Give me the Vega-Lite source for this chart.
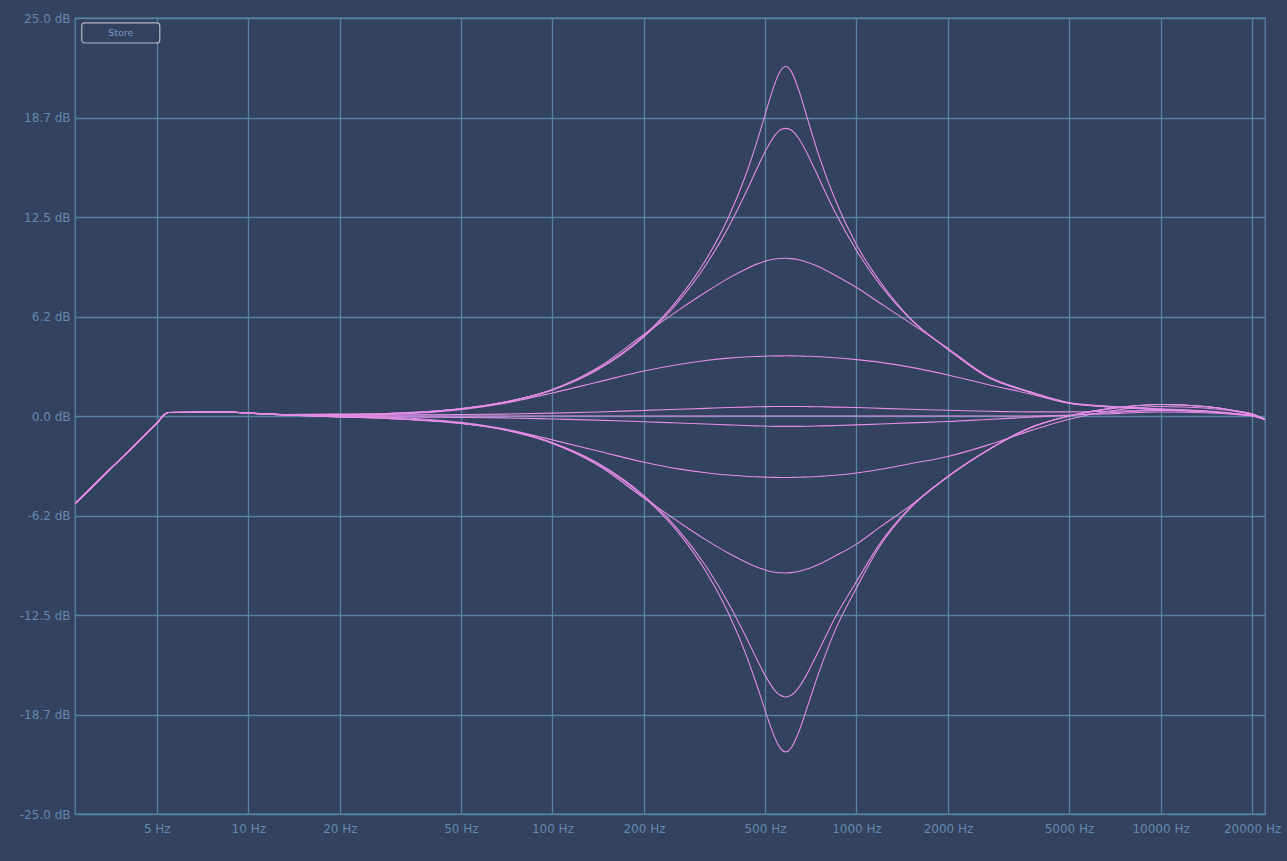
{
  "$schema": "https://vega.github.io/schema/vega-lite/v6.json",
  "width": 1190,
  "height": 796,
  "autosize": {"type": "none"},
  "padding": {"left": 75, "top": 18, "right": 22, "bottom": 47},
  "background": "#33425e",
  "config": {
    "view": {"stroke": "#5683a3", "strokeWidth": 1.3, "fill": "#33425e"},
    "axis": {
      "grid": true,
      "gridColor": "#5683a3",
      "gridWidth": 1.3,
      "domain": false,
      "ticks": false,
      "labelColor": "#6487af",
      "labelFont": "DejaVu Sans",
      "labelFontSize": 12,
      "labelFlush": false,
      "labelOverlap": false,
      "title": null
    }
  },
  "datasets": {
    "curves": [
      {"f": 2.6917, "A": -5.5, "B": -5.5, "C": -5.5, "D": -5.5, "E": -5.5, "F": -5.5, "Ec": -5.5, "Dc": -5.5, "Cc": -5.5, "Bc": -5.5, "Ac": -5.5},
      {"f": 3.5, "A": -3.37, "B": -3.37, "C": -3.37, "D": -3.37, "E": -3.37, "F": -3.37, "Ec": -3.37, "Dc": -3.37, "Cc": -3.37, "Bc": -3.37, "Ac": -3.37},
      {"f": 4, "A": -2.29, "B": -2.29, "C": -2.29, "D": -2.29, "E": -2.29, "F": -2.29, "Ec": -2.29, "Dc": -2.29, "Cc": -2.29, "Bc": -2.29, "Ac": -2.29},
      {"f": 5, "A": -0.45, "B": -0.45, "C": -0.45, "D": -0.45, "E": -0.45, "F": -0.45, "Ec": -0.45, "Dc": -0.45, "Cc": -0.45, "Bc": -0.45, "Ac": -0.45},
      {"f": 5.45, "A": 0.22, "B": 0.22, "C": 0.22, "D": 0.22, "E": 0.22, "F": 0.22, "Ec": 0.22, "Dc": 0.22, "Cc": 0.22, "Bc": 0.22, "Ac": 0.22},
      {"f": 8, "A": 0.25, "B": 0.25, "C": 0.25, "D": 0.25, "E": 0.25, "F": 0.25, "Ec": 0.25, "Dc": 0.25, "Cc": 0.25, "Bc": 0.25, "Ac": 0.25},
      {"f": 13, "A": 0.09, "B": 0.09, "C": 0.09, "D": 0.09, "E": 0.09, "F": 0.08, "Ec": 0.08, "Dc": 0.07, "Cc": 0.07, "Bc": 0.07, "Ac": 0.07},
      {"f": 20, "A": 0.1, "B": 0.1, "C": 0.1, "D": 0.06, "E": 0.05, "F": 0.02, "Ec": -0.01, "Dc": -0.03, "Cc": -0.06, "Bc": -0.06, "Ac": -0.06},
      {"f": 30, "A": 0.17, "B": 0.17, "C": 0.17, "D": 0.1, "E": 0.06, "F": 0, "Ec": -0.06, "Dc": -0.09, "Cc": -0.17, "Bc": -0.17, "Ac": -0.17},
      {"f": 50, "A": 0.46, "B": 0.46, "C": 0.47, "D": 0.4, "E": 0.09, "F": 0, "Ec": -0.09, "Dc": -0.4, "Cc": -0.47, "Bc": -0.46, "Ac": -0.46},
      {"f": 70, "A": 0.87, "B": 0.87, "C": 0.88, "D": 0.81, "E": 0.12, "F": 0, "Ec": -0.12, "Dc": -0.82, "Cc": -0.88, "Bc": -0.87, "Ac": -0.87},
      {"f": 100, "A": 1.64, "B": 1.64, "C": 1.66, "D": 1.45, "E": 0.18, "F": 0, "Ec": -0.19, "Dc": -1.5, "Cc": -1.72, "Bc": -1.68, "Ac": -1.7},
      {"f": 140, "A": 2.93, "B": 2.88, "C": 3.0, "D": 2.12, "E": 0.25, "F": 0, "Ec": -0.26, "Dc": -2.18, "Cc": -3.05, "Bc": -2.92, "Ac": -2.98},
      {"f": 200, "A": 5.05, "B": 4.98, "C": 5.12, "D": 2.83, "E": 0.35, "F": 0, "Ec": -0.36, "Dc": -2.9, "Cc": -5.15, "Bc": -5.0, "Ac": -5.1},
      {"f": 260, "A": 7.37, "B": 7.2, "C": 6.65, "D": 3.24, "E": 0.42, "F": 0, "Ec": -0.44, "Dc": -3.32, "Cc": -6.65, "Bc": -7.17, "Ac": -7.34},
      {"f": 320, "A": 9.83, "B": 9.5, "C": 7.79, "D": 3.49, "E": 0.48, "F": 0, "Ec": -0.5, "Dc": -3.56, "Cc": -7.78, "Bc": -9.44, "Ac": -9.78},
      {"f": 380, "A": 12.52, "B": 11.89, "C": 8.66, "D": 3.635, "E": 0.53, "F": 0, "Ec": -0.56, "Dc": -3.71, "Cc": -8.62, "Bc": -11.79, "Ac": -12.42},
      {"f": 430, "A": 15.01, "B": 13.93, "C": 9.2, "D": 3.705, "E": 0.56, "F": 0, "Ec": -0.6, "Dc": -3.78, "Cc": -9.15, "Bc": -13.76, "Ac": -14.83},
      {"f": 470, "A": 17.2, "B": 15.52, "C": 9.54, "D": 3.74, "E": 0.58, "F": 0, "Ec": -0.62, "Dc": -3.82, "Cc": -9.49, "Bc": -15.27, "Ac": -16.9},
      {"f": 490, "A": 18.33, "B": 16.25, "C": 9.66, "D": 3.754, "E": 0.585, "F": 0, "Ec": -0.63, "Dc": -3.833, "Cc": -9.61, "Bc": -15.96, "Ac": -17.94},
      {"f": 510, "A": 19.45, "B": 16.9, "C": 9.77, "D": 3.766, "E": 0.59, "F": 0, "Ec": -0.64, "Dc": -3.845, "Cc": -9.72, "Bc": -16.56, "Ac": -18.95},
      {"f": 545, "A": 21.13, "B": 17.74, "C": 9.875, "D": 3.777, "E": 0.6, "F": 0, "Ec": -0.65, "Dc": -3.857, "Cc": -9.83, "Bc": -17.34, "Ac": -20.42},
      {"f": 560, "A": 21.62, "B": 17.96, "C": 9.895, "D": 3.779, "E": 0.6, "F": 0, "Ec": -0.65, "Dc": -3.859, "Cc": -9.85, "Bc": -17.53, "Ac": -20.83},
      {"f": 585, "A": 21.95, "B": 18.07, "C": 9.91, "D": 3.78, "E": 0.6, "F": 0, "Ec": -0.65, "Dc": -3.86, "Cc": -9.86, "Bc": -17.65, "Ac": -21.1},
      {"f": 610, "A": 21.65, "B": 17.97, "C": 9.885, "D": 3.778, "E": 0.6, "F": 0, "Ec": -0.65, "Dc": -3.858, "Cc": -9.84, "Bc": -17.54, "Ac": -20.85},
      {"f": 650, "A": 20.31, "B": 17.35, "C": 9.8, "D": 3.768, "E": 0.6, "F": 0, "Ec": -0.65, "Dc": -3.848, "Cc": -9.75, "Bc": -16.98, "Ac": -19.71},
      {"f": 680, "A": 19.08, "B": 16.69, "C": 9.69, "D": 3.757, "E": 0.595, "F": 0, "Ec": -0.645, "Dc": -3.837, "Cc": -9.64, "Bc": -16.37, "Ac": -18.62},
      {"f": 700, "A": 18.27, "B": 16.21, "C": 9.61, "D": 3.75, "E": 0.59, "F": 0, "Ec": -0.64, "Dc": -3.83, "Cc": -9.56, "Bc": -15.92, "Ac": -17.89},
      {"f": 760, "A": 16.1, "B": 14.75, "C": 9.33, "D": 3.72, "E": 0.58, "F": 0, "Ec": -0.62, "Dc": -3.79, "Cc": -9.28, "Bc": -14.55, "Ac": -15.87},
      {"f": 850, "A": 13.61, "B": 12.81, "C": 8.84, "D": 3.66, "E": 0.56, "F": 0, "Ec": -0.6, "Dc": -3.72, "Cc": -8.8, "Bc": -12.68, "Ac": -13.48},
      {"f": 1000, "A": 10.75, "B": 10.4, "C": 8.07, "D": 3.54, "E": 0.53, "F": 0, "Ec": -0.56, "Dc": -3.58, "Cc": -8.05, "Bc": -10.4, "Ac": -10.8},
      {"f": 1200, "A": 8.4, "B": 8.2, "C": 7.07, "D": 3.37, "E": 0.48, "F": 0, "Ec": -0.5, "Dc": -3.35, "Cc": -6.95, "Bc": -7.95, "Ac": -8.1},
      {"f": 1500, "A": 6.15, "B": 6.1, "C": 5.85, "D": 3.07, "E": 0.42, "F": 0, "Ec": -0.43, "Dc": -3.0, "Cc": -5.65, "Bc": -5.75, "Ac": -5.8},
      {"f": 2000, "A": 4.2, "B": 4.18, "C": 4.25, "D": 2.58, "E": 0.36, "F": 0, "Ec": -0.35, "Dc": -2.54, "Cc": -3.8, "Bc": -3.8, "Ac": -3.8},
      {"f": 2700, "A": 2.45, "B": 2.45, "C": 2.5, "D": 1.98, "E": 0.3, "F": 0, "Ec": -0.22, "Dc": -1.83, "Cc": -2.15, "Bc": -2.15, "Ac": -2.15},
      {"f": 3700, "A": 1.5, "B": 1.5, "C": 1.55, "D": 1.4, "E": 0.26, "F": 0, "Ec": -0.08, "Dc": -0.95, "Cc": -0.78, "Bc": -0.75, "Ac": -0.75},
      {"f": 5000, "A": 0.82, "B": 0.8, "C": 0.85, "D": 0.8, "E": 0.26, "F": 0.05, "Ec": 0.05, "Dc": -0.2, "Cc": 0.0, "Bc": 0.0, "Ac": 0.0},
      {"f": 7000, "A": 0.58, "B": 0.56, "C": 0.6, "D": 0.56, "E": 0.3, "F": 0.15, "Ec": 0.22, "Dc": 0.35, "Cc": 0.48, "Bc": 0.5, "Ac": 0.5},
      {"f": 10000, "A": 0.42, "B": 0.4, "C": 0.45, "D": 0.4, "E": 0.35, "F": 0.25, "Ec": 0.35, "Dc": 0.6, "Cc": 0.72, "Bc": 0.72, "Ac": 0.72},
      {"f": 14000, "A": 0.3, "B": 0.28, "C": 0.32, "D": 0.28, "E": 0.28, "F": 0.2, "Ec": 0.3, "Dc": 0.5, "Cc": 0.6, "Bc": 0.6, "Ac": 0.6},
      {"f": 18000, "A": 0.12, "B": 0.1, "C": 0.13, "D": 0.11, "E": 0.12, "F": 0.08, "Ec": 0.13, "Dc": 0.25, "Cc": 0.3, "Bc": 0.3, "Ac": 0.3},
      {"f": 20000, "A": 0.03, "B": 0.02, "C": 0.04, "D": 0.02, "E": 0.03, "F": 0, "Ec": 0.03, "Dc": 0.1, "Cc": 0.12, "Bc": 0.12, "Ac": 0.12},
      {"f": 22050, "A": -0.22, "B": -0.22, "C": -0.2, "D": -0.22, "E": -0.2, "F": -0.22, "Ec": -0.22, "Dc": -0.2, "Cc": -0.2, "Bc": -0.22, "Ac": -0.25}
    ],
    "button": [
      {"fx1": 2.833, "fx2": 5.115, "dy1": 24.69, "dy2": 23.43, "fxt": 3.806, "dyt": 24.06, "label": "Store"}
    ]
  },
  "layer": [
    {
      "data": {"name": "curves"},
      "transform": [
        {"fold": ["A", "B", "C", "D", "E", "F", "Ec", "Dc", "Cc", "Bc", "Ac"], "as": ["g", "db"]}
      ],
      "mark": {"type": "line", "interpolate": "monotone", "color": "#e28de6", "strokeWidth": 1.1, "clip": true},
      "encoding": {
        "x": {
          "field": "f",
          "type": "quantitative",
          "scale": {"type": "log", "domain": [2.6917, 22050], "nice": false},
          "axis": {
            "values": [5, 10, 20, 50, 100, 200, 500, 1000, 2000, 5000, 10000, 20000],
            "labelExpr": "datum.value + ' Hz'",
            "labelPadding": 9
          }
        },
        "y": {
          "field": "db",
          "type": "quantitative",
          "scale": {"domain": [-25, 25], "nice": false},
          "axis": {
            "values": [-25, -18.75, -12.5, -6.25, 0, 6.25, 12.5, 18.75, 25],
            "labelExpr": "(datum.value < 0 ? '-' : '') + format(floor(abs(datum.value) * 10) / 10, '.1f') + ' dB'",
            "labelPadding": 5
          }
        },
        "detail": {"field": "g"},
        "order": {"field": "f", "type": "quantitative"}
      }
    },
    {
      "data": {"name": "button"},
      "mark": {"type": "rect", "cornerRadius": 3, "stroke": "#b3b9c3", "strokeWidth": 1.2, "fill": "#33425e"},
      "encoding": {
        "x": {"field": "fx1", "type": "quantitative"},
        "x2": {"field": "fx2"},
        "y": {"field": "dy1", "type": "quantitative"},
        "y2": {"field": "dy2"}
      }
    },
    {
      "data": {"name": "button"},
      "mark": {"type": "text", "color": "#7698c2", "fontSize": 9.5, "font": "DejaVu Sans", "baseline": "middle", "align": "center"},
      "encoding": {
        "x": {"field": "fxt", "type": "quantitative"},
        "y": {"field": "dyt", "type": "quantitative"},
        "text": {"field": "label"}
      }
    }
  ]
}
